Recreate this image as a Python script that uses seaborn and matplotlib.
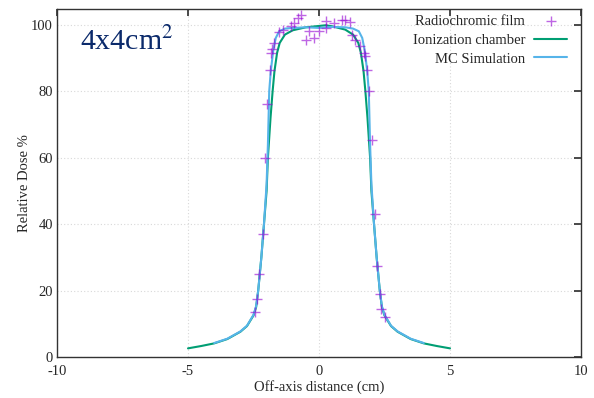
import numpy as np
import pandas as pd
import seaborn as sns
import matplotlib
matplotlib.use("Agg")
import matplotlib.pyplot as plt

# Radiochromic film measurements (off-axis distance in cm, relative dose %)
film_x = [-2.46, -2.38, -2.28, -2.15, -2.05, -2.0, -1.88, -1.84, -1.78, -1.71, -1.52, -1.39,
          -1.08, -0.95, -0.82, -0.70, -0.51, -0.38, -0.19, 0.0, 0.25, 0.25, 0.57, 0.89, 1.01,
          1.2, 1.27, 1.39, 1.58, 1.71, 1.77, 1.84, 1.90, 2.03, 2.13, 2.22, 2.32, 2.38, 2.51]
film_y = [13.6, 17.4, 25.0, 37.0, 59.8, 76.2, 86.4, 91.5, 92.7, 94.5, 97.8, 98.3,
          99.7, 100.5, 102.0, 103.0, 95.3, 98.0, 96.0, 98.0, 99.0, 101.0, 100.5, 101.5, 101.3,
          100.7, 97.0, 95.5, 93.5, 91.5, 90.5, 86.2, 79.9, 65.4, 43.1, 27.4, 18.9, 14.5, 12.0]

# Ionization chamber profile
ic_x = [-5.0, -4.5, -4.0, -3.5, -3.0, -2.75, -2.5, -2.4, -2.32, -2.2, -2.1, -2.0, -1.95, -1.85,
        -1.77, -1.7, -1.6, -1.5, -1.3, -1.0, -0.5, 0.0, 0.25, 0.5, 1.0, 1.3, 1.5, 1.6, 1.7,
        1.77, 1.85, 1.95, 2.0, 2.1, 2.2, 2.32, 2.4, 2.5, 2.75, 3.0, 3.5, 4.0, 4.5, 5.0]
ic_y = [2.6, 3.3, 4.1, 5.4, 7.6, 9.3, 12.5, 15.0, 20.0, 30.0, 40.0, 50.0, 60.0, 72.0,
        80.0, 86.0, 91.5, 94.5, 97.0, 98.3, 99.2, 99.6, 99.8, 99.5, 98.5, 97.0, 94.5, 91.5, 86.0,
        80.0, 72.0, 60.0, 50.0, 40.0, 30.0, 20.0, 15.0, 12.5, 9.3, 7.6, 5.4, 4.1, 3.3, 2.6]

# Monte Carlo simulation profile
mc_x = [-4.0, -3.5, -3.0, -2.75, -2.5, -2.4, -2.32, -2.2, -2.1, -2.0, -1.95, -1.9, -1.84,
        -1.75, -1.65, -1.52, -1.3, -1.0, -0.5, 0.0, 0.5, 1.0, 1.3, 1.52, 1.65, 1.75, 1.84,
        1.9, 1.95, 2.0, 2.1, 2.2, 2.32, 2.4, 2.5, 2.75, 3.0, 3.5, 4.0]
mc_y = [4.2, 5.5, 7.7, 9.4, 12.7, 15.3, 20.0, 30.0, 40.0, 52.0, 64.0, 80.0, 86.0,
        92.0, 96.0, 98.0, 98.8, 99.0, 99.2, 99.0, 99.3, 99.2, 98.8, 98.0, 96.0, 92.0, 86.0,
        80.0, 64.0, 52.0, 40.0, 30.0, 20.0, 15.3, 12.7, 9.4, 7.7, 5.5, 4.2]

sns.set_theme(style="white")
plt.rcParams['font.family'] = ['Liberation Serif', 'DejaVu Serif']
plt.rcParams['mathtext.fontset'] = 'stix'
plt.rcParams['axes.unicode_minus'] = False

fig = plt.figure(figsize=(5.94, 3.98), dpi=100)
ax = fig.add_axes([57 / 594, 41 / 398, 524 / 594, 348 / 398])

sns.lineplot(x=ic_x, y=ic_y, ax=ax, color='#009e73', lw=1.5, label='Ionization chamber',
             sort=False, estimator=None)
sns.lineplot(x=mc_x, y=mc_y, ax=ax, color='#56b4e9', lw=1.5, label='MC Simulation',
             sort=False, estimator=None)
sns.scatterplot(x=film_x, y=film_y, ax=ax, marker='+', s=60, color='#9400d3', alpha=0.6,
                linewidth=1.0, label='Radiochromic film', zorder=5)

ax.set_xlim(-10, 10)
ax.set_ylim(0, 104.7)
ax.set_xticks([-10, -5, 0, 5, 10])
ax.set_yticks([0, 20, 40, 60, 80, 100])
ax.grid(True, color='#d8d8d8', linestyle=(0, (1, 2)), linewidth=0.8)
ax.tick_params(direction='in', top=True, right=True, labelsize=10.5, length=5, color='#333333',
               pad=3)
ax.tick_params(axis='x', pad=6)
for s in ax.spines.values():
    s.set_color('#333333')
    s.set_linewidth(1.0)

ax.set_xlabel('Off-axis distance (cm)', fontsize=10.5, labelpad=1)
ax.set_ylabel('Relative Dose %', fontsize=10.5, labelpad=0)

ax.text(0.044, 0.905, '4x4cm$^{2}$', transform=ax.transAxes, fontsize=21.5, color='#0b2a6b',
        va='center', ha='left')

h, l = ax.get_legend_handles_labels()
order = [2, 0, 1]
ax.legend([h[i] for i in order], [l[i] for i in order], loc='upper right', frameon=False,
          markerfirst=False, fontsize=10.5, handlelength=2.3, labelspacing=0.38,
          borderaxespad=0.0, handletextpad=0.6, bbox_to_anchor=(0.985, 1.0))

fig.savefig('out.png', dpi=100)
